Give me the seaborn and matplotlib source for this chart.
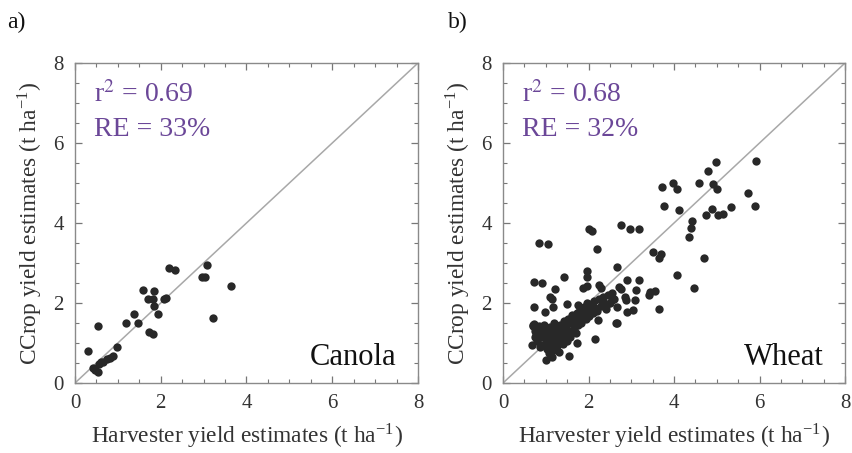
import matplotlib

matplotlib.use("Agg")

import numpy as np
import pandas as pd
import matplotlib.pyplot as plt
from matplotlib.ticker import MultipleLocator
import seaborn as sns

# --- data ---
canola_harvester = [0.31, 0.53, 0.47, 0.54, 0.56, 0.66, 0.75, 0.82, 0.89, 0.99,
                    1.19, 1.38, 1.46, 1.59, 1.71, 1.83, 1.85, 1.85, 1.93, 1.72,
                    1.81, 2.08, 2.12, 2.19, 2.34, 2.97, 3.03, 3.07, 3.65, 3.22,
                    0.43, 0.60]
canola_ccrop = [0.81, 1.43, 0.33, 0.28, 0.48, 0.53, 0.59, 0.62, 0.68, 0.89,
                1.49, 1.73, 1.51, 2.33, 2.10, 2.10, 2.30, 1.93, 1.73, 1.28,
                1.23, 2.10, 2.13, 2.88, 2.83, 2.66, 2.66, 2.96, 2.43, 1.63,
                0.38, 0.52]

wheat_harvester = [
    # scattered points
    3.71, 3.77, 0.83, 1.05, 2.01, 2.09, 2.76, 2.97, 3.18, 2.21,
    3.52, 3.69, 3.65, 2.67, 1.96, 1.97, 1.43, 0.73, 0.92, 1.22,
    1.88, 1.96, 2.25, 2.29, 2.89, 3.19, 2.71, 2.75, 3.10, 3.44,
    3.56, 3.42, 1.10, 1.15, 2.85, 3.09, 0.73, 1.18, 0.98, 1.50,
    1.76, 1.97, 3.05, 3.65, 2.64, 2.15, 1.54, 1.74, 0.69, 1.01,
    2.35, 2.44, 2.54, 2.88, 2.66, 2.89, 0.71, 2.66, 2.23, 0.67,
    0.75, 0.79, 0.87, 1.14, 1.26,
    # upper right
    4.98, 5.92, 4.80, 3.98, 4.06, 4.59, 4.91, 5.00, 5.74, 5.89,
    4.12, 4.88, 4.74, 5.04, 5.15, 5.33, 4.41, 4.40, 4.35, 4.71,
    4.06, 4.47,
    # dense band
    0.72, 0.75, 0.78, 0.80, 0.85, 0.88, 0.90, 0.92, 0.95, 0.97,
    1.00, 1.02, 1.03, 1.05, 1.07, 1.08, 1.10, 1.12, 1.13, 1.15,
    1.17, 1.18, 1.20, 1.22, 1.23, 1.25, 1.27, 1.28, 1.30, 1.32,
    1.33, 1.35, 1.37, 1.40, 1.42, 1.45, 1.47, 1.50, 1.52, 1.55,
    1.57, 1.60, 1.62, 1.65, 1.68, 1.70, 1.73, 1.75, 1.78, 1.80,
    1.83, 1.86, 1.90, 1.93, 1.96, 2.00, 2.03, 2.06, 2.10, 2.13,
    2.16, 2.20, 2.25, 2.30, 2.35, 2.40, 2.45, 2.50, 2.55, 2.60,
]
wheat_ccrop = [
    4.89, 4.43, 3.49, 3.47, 3.85, 3.80, 3.94, 3.84, 3.85, 3.35,
    3.27, 3.22, 3.12, 2.90, 2.80, 2.64, 2.64, 2.52, 2.49, 2.36,
    2.37, 2.43, 2.46, 2.38, 2.58, 2.58, 2.39, 2.34, 2.33, 2.28,
    2.31, 2.20, 2.16, 2.09, 2.14, 2.07, 1.89, 1.91, 1.78, 1.98,
    1.96, 2.01, 1.83, 1.86, 1.49, 1.09, 0.68, 0.99, 1.43, 0.57,
    2.03, 1.97, 2.08, 2.08, 1.91, 1.78, 1.45, 1.51, 1.58, 0.95,
    1.16, 1.24, 0.91, 0.66, 0.83,
    5.53, 5.56, 5.31, 4.99, 4.84, 4.99, 4.97, 4.85, 4.74, 4.43,
    4.33, 4.35, 4.20, 4.20, 4.23, 4.41, 4.06, 3.88, 3.64, 3.13,
    2.70, 2.38,
    1.48, 1.30, 1.20, 1.05, 1.42, 1.35, 1.15, 0.95, 1.25, 1.45,
    1.10, 0.85, 1.30, 1.00, 0.75, 1.20, 1.40, 0.92, 1.10, 0.80,
    1.25, 1.00, 1.50, 0.88, 1.15, 1.35, 0.95, 1.05, 1.22, 0.78,
    1.45, 1.10, 1.30, 0.98, 1.55, 1.20, 1.40, 1.05, 1.60, 1.30,
    1.15, 1.50, 1.70, 1.35, 1.58, 1.25, 1.75, 1.45, 1.62, 1.85,
    1.50, 1.70, 1.90, 1.60, 1.78, 1.68, 1.85, 1.95, 1.75, 2.05,
    1.88, 1.80, 2.10, 1.92, 2.15, 1.85, 2.20, 2.00, 2.25, 2.10,
]

panels = [
    ("a)", "Canola", canola_harvester, canola_ccrop, "r$^{2}$ = 0.69", "RE = 33%"),
    ("b)", "Wheat", wheat_harvester, wheat_ccrop, "r$^{2}$ = 0.68", "RE = 32%"),
]

sns.set_style("ticks")
plt.rcParams["font.family"] = ["Liberation Serif", "DejaVu Serif"]
plt.rcParams["mathtext.fontset"] = "stix"

fig = plt.figure(figsize=(8.52, 4.53), dpi=100)
axes_pos = [[0.088, 0.1545, 0.4026, 0.7064], [0.5904, 0.1545, 0.4014, 0.7064]]
tag_x = [7 / 852, 448 / 852]
purple = "#6b4798"

for pos, tx, (tag, crop, xs, ys, r2, re) in zip(axes_pos, tag_x, panels):
    ax = fig.add_axes(pos)
    df = pd.DataFrame({"harvester": xs, "ccrop": ys})
    ax.plot([0, 8], [0, 8], color="#a8a8a8", lw=1.1, zorder=1)
    sns.scatterplot(data=df, x="harvester", y="ccrop", ax=ax, color="#282828",
                    s=36, linewidth=0, zorder=2)
    ax.set_xlim(0, 8)
    ax.set_ylim(0, 8)
    ax.xaxis.set_major_locator(MultipleLocator(2))
    ax.yaxis.set_major_locator(MultipleLocator(2))
    ax.xaxis.set_minor_locator(MultipleLocator(0.5))
    ax.yaxis.set_minor_locator(MultipleLocator(0.5))
    ax.tick_params(which="both", direction="in", top=True, right=True,
                   colors="#777777", labelcolor="#333333")
    ax.tick_params(which="major", length=5, width=0.9, labelsize=15, pad=8)
    ax.tick_params(which="minor", length=3, width=0.8)
    for sp in ax.spines.values():
        sp.set_color("#8a8a8a")
        sp.set_linewidth(1.0)
    ax.set_xlabel("Harvester yield estimates (t ha$^{\\mathregular{-1}}$)",
                  fontsize=16.8, color="#333333", labelpad=6)
    ax.set_ylabel("CCrop yield estimates (t ha$^{\\mathregular{-1}}$)",
                  fontsize=16.8, color="#333333", labelpad=7)
    ax.text(0.45, 7.2, r2, fontsize=20, color=purple, va="center", ha="left")
    ax.text(0.45, 6.35, re, fontsize=20, color=purple, va="center", ha="left")
    ax.text(7.5, 0.65, crop, fontsize=22, color="#111111", va="center", ha="right")
    fig.text(tx, 1 - 22 / 453, tag, fontsize=17, color="#111111",
             va="center", ha="left")

fig.savefig("out.png", dpi=100)
